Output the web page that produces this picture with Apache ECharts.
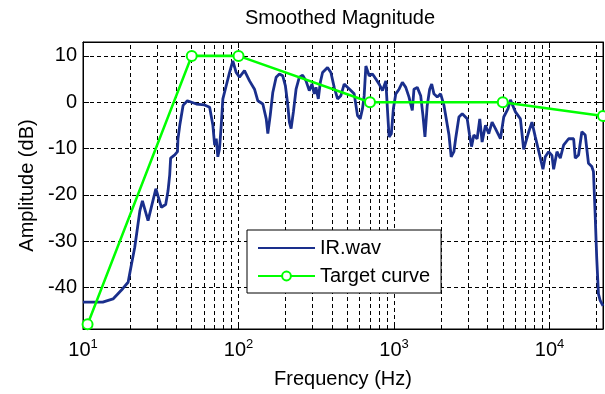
<!DOCTYPE html>
<html>
<head>
<meta charset="utf-8">
<title>Smoothed Magnitude</title>
<script src="https://cdn.jsdelivr.net/npm/echarts@6/dist/echarts.min.js"></script>
<style>
  html, body { margin: 0; padding: 0; background: #fff; }
  #chart { width: 605px; height: 394px; }
</style>
</head>
<body>
<div id="chart"></div>
<script>
// Smoothed response of IR.wav (frequency in Hz, level in dB)
const irHz = [
  10, 13.4, 15.6, 18.0, 19.5, 20.5, 21.5, 23.2, 24.1, 26.2, 29.4, 31.9, 34.0, 35.2, 36.1, 36.6,
  38.9, 40.5, 40.8, 41.9, 44.0, 46.9, 53.6, 60.5, 65.2, 68.4, 70.2, 71.9, 73.6, 75.5, 77.4, 79.3,
  83.4, 87.5, 91.9, 96.6, 101.4, 109.2, 117.7, 126.7, 133.1, 143.3, 150.7, 154.3, 159.8, 166.1,
  174.5, 183.2, 192.4, 200, 207, 212.3, 217.8, 225.3, 234.4, 246, 258.3, 271.5, 285.1, 296.6,
  306.9, 314.8, 325.8, 335.7, 347, 373.4, 392.6, 412.3, 433.4, 455, 477.8, 502, 527.5, 554.1,
  582.2, 605.6, 626.7, 642.5, 658.8, 674.7, 691.8, 726.7, 763.9, 802.3, 842.3, 885.5, 906, 929,
  961, 990, 1026, 1077, 1131, 1189, 1248, 1310, 1343, 1410, 1483, 1534, 1580, 1634, 1694, 1746,
  1805, 1896, 1993, 2094, 2148, 2255, 2330, 2425, 2488, 2613, 2744, 2954, 3058, 3149, 3258, 3421,
  3558, 3683, 3871, 4064, 4268, 4486, 4830, 5073, 5406, 5600, 6030, 6491, 6815, 7328, 7701, 8093,
  8715, 9062, 9382, 9855, 10356, 10617, 11151, 11718, 12302, 13252, 14276, 14622, 15354, 16122,
  16950, 17783, 18674, 19146, 19634, 20089, 20610, 21135, 22050
];
const irDb = [
  -43.2, -43.2, -42.5, -40.3, -38.9, -35, -31.4, -23.5, -21.3, -25.6, -18.7, -22.7, -22.1, -19.2, -15.7, -12.1,
  -11.4, -10.7, -7.9, -5, -0.7, 0.3, -0.4, -0.6, -1.1, -5, -9.3, -7.9, -11.8, -10, -5, 0.7,
  3.6, 6.4, 8.9, 6.4, 5.4, 6.8, 4.6, 2.8, 0.3, -0.4, -3.6, -6.8, -2.9, 2.1,
  5.4, 6.1, 5.7, 3.6, -0.4, -4.3, -5.7, -2.1, 2.8, 5.4, 5.8, 4.6, 2.5, 3.9,
  1.8, 3.2, 0.7, 4.3, 6.4, 7.5, 6.4, 3.2, 0.7, 1.4, 3.9, 3.2, 2.5, 1.8,
  -2.9, -3.6, -1.4, 1.4, 7.8, 8.2, 5.7, 6.1, 5, 3.9, 2.5, 4.6, -1.4, -7.5,
  -6.8, -1.4, 1.8, 2.8, 4.3, 3.2, 1.1, -1.8, 2.8, 3.2, 1.4, -2.9, -7.5, -0.7, 2.8, 3.9,
  1.8, 1.1, 1.8, -0.7, -0.4, -7.1, -11.8, -10.7, -7.9, -3.2, -2.5, -3.6, -7.1, -9.6, -7.1, -7.9,
  -3.6, -8.6, -5, -6.8, -4.3, -5.7, -7.9, -3.2, -1.4, 0.5, -2.1, -3.6, -10.2, -6.5, -4.3, -7.5,
  -12, -14.5, -11.8, -10.7, -11.5, -14.5, -10.7, -12.1, -9.3, -7.9, -7.9, -12.1, -11.4, -6.4,
  -7.1, -13.2, -13.9, -15, -24.3, -33.6, -41.4, -42.8, -44
];

// Target curve breakpoints
const targetHz = [10.7, 50, 100, 700, 5000, 22050];
const targetDb = [-48, 10, 10, 0, 0, -3];

// Axis ranges and the positions of the minor (2..9 per decade) grid lines
const freqRange = [10, 22050];
const dbRange = [-49, 13];
const minorGridHz = [
  20, 30, 40, 50, 60, 70, 80, 90,
  200, 300, 400, 500, 600, 700, 800, 900,
  2000, 3000, 4000, 5000, 6000, 7000, 8000, 9000,
  20000
];

const FONT = '"Liberation Sans", Arial, sans-serif';
const dash = [4, 3];

const irData = irHz.map((f, i) => [f, irDb[i]]);
const targetData = targetHz.map((f, i) => [f, targetDb[i]]);

function decadeLabel(v) {
  const e = Math.log10(v);
  const r = Math.round(e);
  if (Math.abs(e - r) > 1e-6) return '';
  return '{b|10}{s|' + r + '}';
}

const chart = echarts.init(document.getElementById('chart'), null, { renderer: 'canvas' });

chart.setOption({
  animation: false,
  backgroundColor: '#fff',
  textStyle: { fontFamily: FONT },
  title: {
    text: 'Smoothed Magnitude',
    left: 340,
    textAlign: 'center',
    top: 8,
    padding: 0,
    textStyle: { fontFamily: FONT, fontSize: 20, fontWeight: 'normal', color: '#000' }
  },
  grid: {
    left: 83, right: 2, top: 42, bottom: 61,
    show: true, borderColor: '#000', borderWidth: 1, backgroundColor: '#fff'
  },
  legend: {
    orient: 'vertical',
    left: 247,
    top: 230,
    z: 10,
    padding: [8, 11, 7, 10],
    itemGap: 8,
    itemWidth: 57,
    itemHeight: 11,
    backgroundColor: '#fff',
    borderColor: '#000',
    borderWidth: 1,
    borderRadius: 0,
    data: [
      { name: 'IR.wav', itemStyle: { opacity: 0 } },
      { name: 'Target curve' }
    ],
    textStyle: { fontFamily: FONT, fontSize: 20, color: '#000', lineHeight: 20 }
  },
  xAxis: [
    {
      type: 'log',
      logBase: 10,
      min: freqRange[0],
      max: freqRange[1],
      name: 'Frequency (Hz)',
      nameLocation: 'middle',
      nameGap: 40,
      nameTextStyle: { fontFamily: FONT, fontSize: 20, color: '#000' },
      axisLine: { show: true, onZero: false, lineStyle: { color: '#000', width: 1 } },
      axisTick: { show: true, inside: true, length: 6, lineStyle: { color: '#000' } },
      axisLabel: {
        show: true,
        margin: 9,
        showMaxLabel: false,
        formatter: decadeLabel,
        rich: {
          b: { fontFamily: FONT, fontSize: 20, color: '#000', lineHeight: 22, verticalAlign: 'bottom' },
          s: { fontFamily: FONT, fontSize: 13, color: '#000', lineHeight: 13, verticalAlign: 'top' }
        }
      },
      splitLine: { show: true, lineStyle: { color: '#000', width: 1, type: dash } }
    },
    {
      type: 'log',
      logBase: 10,
      min: freqRange[0],
      max: freqRange[1],
      position: 'top',
      axisLine: { show: true, onZero: false, lineStyle: { color: '#000', width: 1 } },
      axisTick: { show: true, inside: true, length: 6, lineStyle: { color: '#000' } },
      axisLabel: { show: false },
      splitLine: { show: false }
    }
  ],
  yAxis: [
    {
      type: 'value',
      min: dbRange[0],
      max: dbRange[1],
      splitNumber: 6,
      name: 'Amplitude (dB)',
      nameLocation: 'middle',
      nameGap: 44,
      nameTextStyle: { fontFamily: FONT, fontSize: 20, color: '#000' },
      axisLine: { show: true, onZero: false, lineStyle: { color: '#000', width: 1 } },
      axisTick: { show: true, inside: true, length: 6, lineStyle: { color: '#000' } },
      axisLabel: {
        show: true,
        margin: 6,
        showMinLabel: false,
        showMaxLabel: false,
        fontFamily: FONT,
        fontSize: 20,
        color: '#000',
        formatter: v => (v % 10 === 0 ? String(v) : '')
      },
      splitLine: { show: true, lineStyle: { color: '#000', width: 1, type: dash } }
    },
    {
      type: 'value',
      min: dbRange[0],
      max: dbRange[1],
      splitNumber: 6,
      position: 'right',
      axisLine: { show: true, onZero: false, lineStyle: { color: '#000', width: 1 } },
      axisTick: { show: true, inside: true, length: 6, lineStyle: { color: '#000' } },
      axisLabel: { show: false },
      splitLine: { show: false }
    }
  ],
  series: [
    {
      name: 'minor grid',
      type: 'line',
      data: [],
      z: 1,
      silent: true,
      markLine: {
        z: 1,
        silent: true,
        symbol: ['none', 'none'],
        label: { show: false },
        animation: false,
        lineStyle: { color: '#000', width: 1, type: dash },
        emphasis: { disabled: true },
        data: minorGridHz.map(f => ({ xAxis: f }))
      }
    },
    {
      name: 'IR.wav',
      type: 'line',
      data: irData,
      z: 3,
      showSymbol: false,
      symbol: 'none',
      smooth: false,
      lineStyle: { color: '#1a2f8c', width: 2.8 },
      itemStyle: { color: '#1a2f8c' }
    },
    {
      name: 'Target curve',
      type: 'line',
      data: targetData,
      z: 4,
      symbol: 'emptyCircle',
      symbolSize: 10,
      showSymbol: true,
      lineStyle: { color: '#00ff00', width: 2.6 },
      itemStyle: { color: '#00ff00', borderColor: '#00ff00', borderWidth: 2 }
    }
  ]
});
</script>
</body>
</html>
